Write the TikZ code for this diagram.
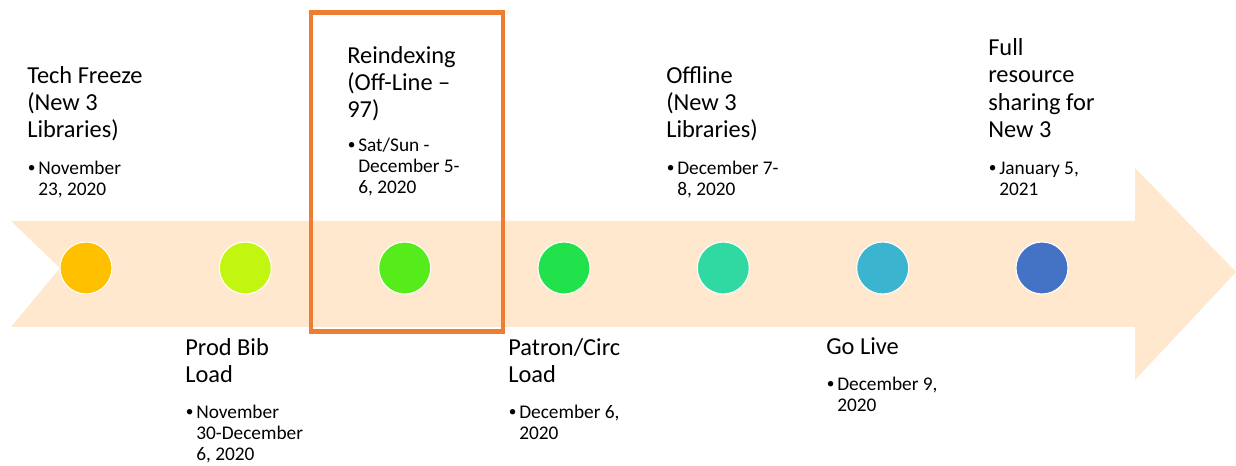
\documentclass[tikz,border=0pt]{standalone}
\usepackage{fontspec}
\setmainfont{Carlito}
\definecolor{band}{HTML}{FFE8CD}
\definecolor{boxorange}{HTML}{ED7D31}
\definecolor{c1}{HTML}{FFC000}
\definecolor{c2}{HTML}{C2F50F}
\definecolor{c3}{HTML}{56EB1A}
\definecolor{c4}{HTML}{22E24C}
\definecolor{c5}{HTML}{30D8A2}
\definecolor{c6}{HTML}{3BB4CF}
\definecolor{c7}{HTML}{4472C4}
\begin{document}
\begin{tikzpicture}[x=0.75pt,y=-0.75pt,
  dot/.style={circle,draw=white,line width=0.8pt,minimum size=39pt,inner sep=0pt},
  title/.style={anchor=base west,inner sep=0pt,align=left,font={\fontsize{18.3}{20.6}\selectfont}},
  btext/.style={anchor=base west,inner sep=0pt,align=left,font={\fontsize{14.5}{15.75}\selectfont}},
  bullet/.style={anchor=base west,inner sep=0pt,font={\fontsize{11.5}{12}\selectfont}}]
\useasboundingbox (0,0) rectangle (1236,466);
\fill[white] (0,0) rectangle (1236,466);
% timeline band arrow
\fill[band] (11,221) -- (1135,221) -- (1135,168) -- (1236,272) -- (1135,380)
  -- (1135,327) -- (11,327) -- (60,268) -- cycle;
% highlight box
\node[draw=boxorange,line width=3.6pt,inner sep=0pt,minimum width=144pt,minimum height=239.6pt,anchor=north west] (hl) at (308.5,10) {};
% milestone dots
\node[dot,fill=c1] (d1) at (86,268) {};
\node[dot,fill=c2] (d2) at (245.3,268) {};
\node[dot,fill=c3] (d3) at (404.7,268) {};
\node[dot,fill=c4] (d4) at (564,268) {};
\node[dot,fill=c5] (d5) at (723.3,268) {};
\node[dot,fill=c6] (d6) at (882.7,268) {};
\node[dot,fill=c7] (d7) at (1042,268) {};
% (multi-line nodes are placed by the baseline of their last line)
% 1
\node[title] (t1) at (27,138) {Tech Freeze\\(New 3\\Libraries)};
\node[bullet] (b1) at (27.5,173) {•};
\node[btext] (s1) at (38,196) {November\\23, 2020};
% 2
\node[title] (t2) at (185,383) {Prod Bib\\Load};
\node[bullet] (b2) at (185.5,417) {•};
\node[btext] (s2) at (196,461) {November\\30-December\\6, 2020};
% 3
\node[title] (t3) at (347,118) {Reindexing\\(Off-Line –\\97)};
\node[bullet] (b3) at (347.5,150) {•};
\node[btext] (s3) at (358,194) {Sat/Sun -\\December 5-\\6, 2020};
% 4
\node[title] (t4) at (508,383) {Patron/Circ\\Load};
\node[bullet] (b4) at (508.5,417) {•};
\node[btext] (s4) at (519,440) {December 6,\\2020};
% 5
\node[title] (t5) at (666,138) {Offline\\(New 3\\Libraries)};
\node[bullet] (b5) at (666.5,173) {•};
\node[btext] (s5) at (677,196) {December 7-\\8, 2020};
% 6
\node[title] (t6) at (826,355) {Go Live};
\node[bullet] (b6) at (826.5,389) {•};
\node[btext] (s6) at (837,412) {December 9,\\2020};
% 7
\node[title] (t7) at (988,137.5) {Full\\resource\\sharing for\\New 3};
\node[bullet] (b7) at (988.5,173) {•};
\node[btext] (s7) at (999,196) {January 5,\\2021};
\end{tikzpicture}
\end{document}
